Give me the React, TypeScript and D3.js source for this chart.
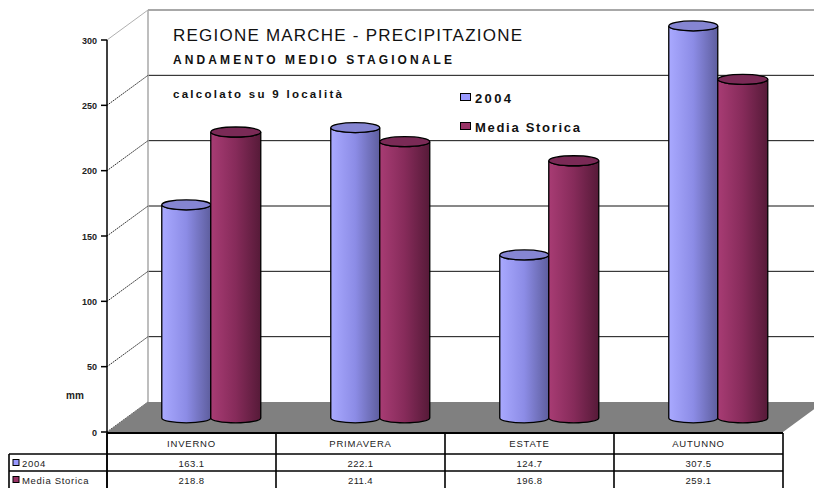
import React from "react";
import * as d3 from "d3";

const categories = ["INVERNO", "PRIMAVERA", "ESTATE", "AUTUNNO"];
const seriesNames = ["2004", "Media Storica"];
const values2004 = [163.1, 222.1, 124.7, 307.5];
const valuesMedia = [218.8, 211.4, 196.8, 259.1];
const yTicks = [0, 50, 100, 150, 200, 250, 300];
const titleMain = "REGIONE MARCHE - PRECIPITAZIONE";
const titleSub = "ANDAMENTO MEDIO STAGIONALE";
const note = "calcolato su 9 località";

const W = 814;
const H = 488;
const FONT = "'Liberation Sans', Arial, Helvetica, sans-serif";

// geometry
const FX0 = 107;
const FX1 = 783;
const DX = 41;
const DY = -30;
const BAR_D = 0.47; // bar depth fraction
const BAR_W = 49;
const RY = 5;

const x = d3.scaleBand<string>().domain(categories).range([FX0, FX1]);
const y = d3.scaleLinear().domain([0, 300]).range([432, 40]);

const colors = [
  { stops: ["#a9a9ff", "#8c8ce6", "#5e5e9e"], top: "#8585d2" },
  { stops: ["#a83c74", "#862b5a", "#561a38"], top: "#7a2a56" },
];

function cylinderSide(xl: number, xr: number, yTop: number, yBase: number) {
  const rx = (xr - xl) / 2;
  return `M${xl},${yTop} L${xl},${yBase} A${rx},${RY} 0 0 0 ${xr},${yBase} L${xr},${yTop} A${rx},${RY} 0 0 1 ${xl},${yTop} Z`;
}

export default function App() {
  const yMax = y.domain()[1];
  const baseY = y(0) + DY * BAR_D;
  const shiftX = DX * BAR_D;
  const series = [values2004, valuesMedia];
  const rowY = [433, 454, 471, 490];
  const colX = [FX0, ...categories.map((c) => (x(c) as number) + x.bandwidth())];

  return (
    <svg width={W} height={H} style={{ display: "block", position: "absolute", left: 0, top: 0, background: "#fff" }} fontFamily={FONT}>
      <defs>
        {colors.map((c, i) => (
          <linearGradient key={i} id={`g${i}`} x1="0" x2="1" y1="0" y2="0">
            <stop offset="0" stopColor={c.stops[0]} />
            <stop offset="0.5" stopColor={c.stops[1]} />
            <stop offset="1" stopColor={c.stops[2]} />
          </linearGradient>
        ))}
      </defs>

      {/* back wall gridlines */}
      {yTicks.filter((t) => t > 0).map((t) => (
        <line key={`bg${t}`} x1={FX0 + DX} x2={FX1 + DX} y1={y(t) + DY} y2={y(t) + DY}
          stroke={t === yMax ? "#a8a8a8" : "#111"} strokeWidth={t === yMax ? 2 : 1} />
      ))}
      {/* left wall vertical */}
      <line x1={FX0 + DX} x2={FX0 + DX} y1={y(yMax) + DY} y2={y(0) + DY} stroke="#a8a8a8" strokeWidth={1.5} />
      {/* side wall diagonals */}
      {yTicks.map((t) => (
        <line key={`dg${t}`} x1={FX0} y1={y(t)} x2={FX0 + DX} y2={y(t) + DY}
          stroke={t === yMax ? "#b0b0b0" : "#222"} strokeWidth={1} strokeDasharray={t === yMax ? undefined : "1.6 0.9"} />
      ))}

      {/* floor */}
      <polygon
        points={`${FX0},${y(0)} ${FX0 + DX},${y(0) + DY} ${FX1 + DX},${y(0) + DY} ${FX1},${y(0)}`}
        fill="#808080"
      />

      {/* bars */}
      {categories.map((c, ci) => {
        const cx = (x(c) as number) + x.bandwidth() / 2 + shiftX;
        return series.map((vals, si) => {
          const xl = si === 0 ? cx - BAR_W : cx;
          const xr = si === 0 ? cx : cx + BAR_W + 1;
          const v = Math.min(vals[ci], yMax);
          const yTop = y(v) + DY * BAR_D;
          return (
            <g key={`${c}-${si}`}>
              <path d={cylinderSide(xl, xr, yTop, baseY)} fill={`url(#g${si})`} stroke="#000" strokeWidth={1.3} />
              <ellipse cx={(xl + xr) / 2} cy={yTop} rx={(xr - xl) / 2} ry={RY} fill={colors[si].top} stroke="#000" strokeWidth={1.3} />
            </g>
          );
        });
      })}

      {/* titles */}
      <text x={173} y={41} fontSize={17} textLength={349} lengthAdjust="spacing" fill="#111">{titleMain}</text>
      <text x={173} y={64} fontSize={12} fontWeight="bold" textLength={279} lengthAdjust="spacing" fill="#111">{titleSub}</text>
      <text x={173} y={98} fontSize={11.5} fontWeight="bold" textLength={169} lengthAdjust="spacing" fill="#111">{note}</text>

      {/* legend */}
      {seriesNames.map((s, i) => (
        <g key={s}>
          <rect x={460.5} y={93.5 + i * 29} width={10} height={7} fill={i === 0 ? "#9999ff" : "#993366"} stroke="#000" strokeWidth={1} />
          <text x={475} y={103 + i * 29} fontSize={13} fontWeight="bold" textLength={i === 0 ? 36 : 105} lengthAdjust="spacing" fill="#111">{s}</text>
        </g>
      ))}

      {/* y axis */}
      <line x1={FX0} x2={FX0} y1={y(yMax)} y2={H} stroke="#000" strokeWidth={1.5} />
      {yTicks.map((t) => (
        <g key={`t${t}`}>
          <line x1={FX0 - 6} x2={FX0} y1={y(t)} y2={y(t)} stroke="#000" strokeWidth={1.5} />
          <text x={97} y={y(t) + 3.5} fontSize={9} fontWeight="bold" textAnchor="end" fill="#222">{t}</text>
        </g>
      ))}
      <text x={66} y={399} fontSize={10} fontWeight="bold" fill="#222">mm</text>

      {/* data table */}
      <line x1={FX0} x2={FX1} y1={rowY[0]} y2={rowY[0]} stroke="#000" strokeWidth={1.8} />
      {[rowY[1], rowY[2], rowY[3]].map((ry, i) => (
        <line key={`r${i}`} x1={9} x2={FX1} y1={ry} y2={ry} stroke="#000" strokeWidth={1.6} />
      ))}
      <line x1={9} x2={9} y1={rowY[1]} y2={H} stroke="#000" strokeWidth={1.6} />
      {colX.map((cx, i) => (
        <line key={`c${i}`} x1={cx} x2={cx} y1={rowY[0]} y2={H} stroke="#000" strokeWidth={1.6} />
      ))}
      {categories.map((c) => {
        const mx = (x(c) as number) + x.bandwidth() / 2;
        return (
          <text key={`tb${c}`} x={mx} y={447} fontSize={9.5} textAnchor="middle" fill="#222" letterSpacing={0.8}>{c}</text>
        );
      })}
      {series.map((vals, si) =>
        categories.map((c, ci) => (
          <text key={`v${si}${ci}`} x={(x(c) as number) + x.bandwidth() / 2} y={rowY[si + 1] + 13} fontSize={9.5} textAnchor="middle" fill="#222" letterSpacing={0.4}>
            {vals[ci].toFixed(1)}
          </text>
        ))
      )}
      {seriesNames.map((s, i) => (
        <g key={`tl${s}`}>
          <rect x={13} y={rowY[i + 1] + 5.5} width={6} height={6} fill={i === 0 ? "#9999ff" : "#993366"} stroke="#000" strokeWidth={1} />
          <text x={22} y={rowY[i + 1] + 13} fontSize={9.5} fill="#222" letterSpacing={0.7}>{s}</text>
        </g>
      ))}
    </svg>
  );
}
